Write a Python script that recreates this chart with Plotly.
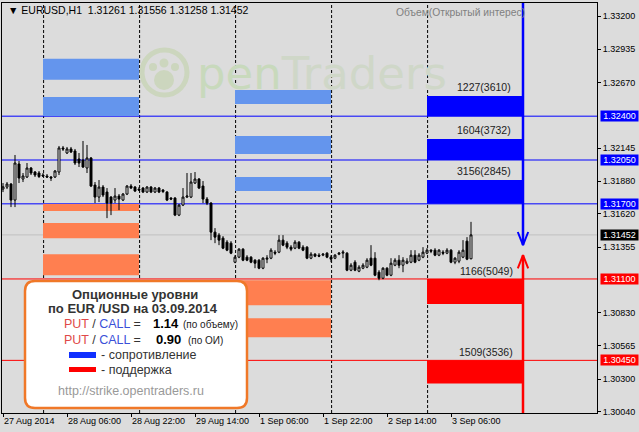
import plotly.graph_objects as go

# ---------------- data (EURUSD H1, 27 Aug 2014 14:00 .. 3 Sep 2014 11:00) ----------------
bar_open = [1.31818, 1.31834, 1.31858, 1.31730, 1.32018, 1.31898, 1.31914, 1.31986, 1.31954, 1.31946,
            1.31930, 1.31922, 1.31914, 1.31914, 1.31954, 1.32146, 1.32106, 1.32138, 1.32122, 1.32058,
            1.32050, 1.31986, 1.32066, 1.31850, 1.31754, 1.31834, 1.31794, 1.31754, 1.31730, 1.31762,
            1.31730, 1.31778, 1.31842, 1.31834, 1.31818, 1.31826, 1.31794, 1.31834, 1.31794, 1.31826,
            1.31810, 1.31794, 1.31746, 1.31746, 1.31610, 1.31690, 1.31754, 1.31754, 1.31866, 1.31898,
            1.31842, 1.31738, 1.31706, 1.31474, 1.31450, 1.31426, 1.31394, 1.31386, 1.31234, 1.31274,
            1.31338, 1.31274, 1.31274, 1.31250, 1.31250, 1.31186, 1.31258, 1.31266, 1.31314, 1.31314,
            1.31410, 1.31386, 1.31354, 1.31346, 1.31394, 1.31354, 1.31354, 1.31266, 1.31298, 1.31290,
            1.31290, 1.31306, 1.31274, 1.31266, 1.31298, 1.31306, 1.31306, 1.31170, 1.31234, 1.31162,
            1.31186, 1.31194, 1.31266, 1.31266, 1.31154, 1.31106, 1.31186, 1.31130, 1.31210, 1.31250,
            1.31210, 1.31226, 1.31234, 1.31290, 1.31250, 1.31274, 1.31306, 1.31330, 1.31330, 1.31290,
            1.31314, 1.31306, 1.31330, 1.31234, 1.31242, 1.31274, 1.31402, 1.31261]
bar_high = [1.31866, 1.31874, 1.31866, 1.32090, 1.32042, 1.31946, 1.32026, 1.31994, 1.31962, 1.31962,
            1.31946, 1.31938, 1.31922, 1.31970, 1.32162, 1.32162, 1.32154, 1.32154, 1.32138, 1.32106,
            1.32202, 1.32170, 1.32074, 1.31874, 1.31890, 1.31850, 1.31826, 1.31762, 1.31826, 1.31778,
            1.31786, 1.31850, 1.31858, 1.31842, 1.31834, 1.31834, 1.31842, 1.31842, 1.31834, 1.31834,
            1.31818, 1.31802, 1.31754, 1.31754, 1.31698, 1.31826, 1.31946, 1.31946, 1.31954, 1.31906,
            1.31882, 1.31754, 1.31714, 1.31506, 1.31466, 1.31442, 1.31410, 1.31402, 1.31290, 1.31346,
            1.31346, 1.31290, 1.31282, 1.31258, 1.31258, 1.31274, 1.31290, 1.31346, 1.31330, 1.31450,
            1.31450, 1.31402, 1.31370, 1.31410, 1.31402, 1.31370, 1.31362, 1.31314, 1.31306, 1.31306,
            1.31306, 1.31314, 1.31290, 1.31298, 1.31314, 1.31330, 1.31314, 1.31226, 1.31250, 1.31210,
            1.31226, 1.31266, 1.31370, 1.31314, 1.31170, 1.31194, 1.31194, 1.31266, 1.31266, 1.31290,
            1.31274, 1.31266, 1.31330, 1.31330, 1.31306, 1.31354, 1.31346, 1.31338, 1.31346, 1.31338,
            1.31330, 1.31346, 1.31338, 1.31274, 1.31330, 1.31410, 1.31434, 1.31556]
bar_low = [1.31794, 1.31818, 1.31674, 1.31674, 1.31866, 1.31874, 1.31906, 1.31930, 1.31914, 1.31906,
           1.31914, 1.31906, 1.31882, 1.31906, 1.31930, 1.32122, 1.32098, 1.32106, 1.32010, 1.31994,
           1.31986, 1.31946, 1.31834, 1.31706, 1.31714, 1.31754, 1.31586, 1.31610, 1.31706, 1.31650,
           1.31722, 1.31770, 1.31818, 1.31794, 1.31802, 1.31786, 1.31786, 1.31786, 1.31786, 1.31786,
           1.31786, 1.31722, 1.31730, 1.31602, 1.31602, 1.31682, 1.31746, 1.31746, 1.31858, 1.31818,
           1.31706, 1.31690, 1.31410, 1.31386, 1.31370, 1.31338, 1.31322, 1.31298, 1.31226, 1.31266,
           1.31242, 1.31242, 1.31226, 1.31186, 1.31178, 1.31178, 1.31226, 1.31258, 1.31290, 1.31306,
           1.31362, 1.31338, 1.31322, 1.31338, 1.31338, 1.31322, 1.31258, 1.31258, 1.31274, 1.31274,
           1.31282, 1.31266, 1.31234, 1.31258, 1.31290, 1.31266, 1.31162, 1.31162, 1.31162, 1.31154,
           1.31178, 1.31186, 1.31202, 1.31122, 1.31090, 1.31098, 1.31122, 1.31122, 1.31202, 1.31186,
           1.31154, 1.31218, 1.31226, 1.31226, 1.31242, 1.31266, 1.31298, 1.31306, 1.31282, 1.31282,
           1.31290, 1.31298, 1.31226, 1.31218, 1.31226, 1.31266, 1.31250, 1.31258]
bar_close = [1.31836, 1.31858, 1.31730, 1.32026, 1.31906, 1.31922, 1.31986, 1.31946, 1.31930, 1.31918,
             1.31922, 1.31914, 1.31906, 1.31962, 1.32146, 1.32138, 1.32138, 1.32114, 1.32026, 1.32026,
             1.31994, 1.32066, 1.31842, 1.31754, 1.31834, 1.31770, 1.31706, 1.31706, 1.31762, 1.31738,
             1.31778, 1.31842, 1.31826, 1.31802, 1.31810, 1.31794, 1.31834, 1.31794, 1.31826, 1.31794,
             1.31798, 1.31730, 1.31738, 1.31610, 1.31690, 1.31754, 1.31762, 1.31874, 1.31898, 1.31826,
             1.31738, 1.31706, 1.31474, 1.31434, 1.31410, 1.31346, 1.31330, 1.31306, 1.31274, 1.31338,
             1.31250, 1.31250, 1.31234, 1.31226, 1.31186, 1.31266, 1.31266, 1.31330, 1.31306, 1.31410,
             1.31370, 1.31354, 1.31338, 1.31394, 1.31346, 1.31330, 1.31266, 1.31298, 1.31282, 1.31282,
             1.31298, 1.31274, 1.31258, 1.31290, 1.31306, 1.31314, 1.31170, 1.31210, 1.31170, 1.31194,
             1.31210, 1.31250, 1.31210, 1.31130, 1.31106, 1.31186, 1.31130, 1.31226, 1.31250, 1.31210,
             1.31250, 1.31242, 1.31290, 1.31234, 1.31290, 1.31314, 1.31330, 1.31322, 1.31290, 1.31330,
             1.31306, 1.31330, 1.31234, 1.31266, 1.31314, 1.31330, 1.31258, 1.31452]

x_tick_bars = [0, 16, 32, 48, 64, 80, 96, 112]
x_tick_labels = ["27 Aug 2014", "28 Aug 06:00", "28 Aug 22:00", "29 Aug 14:00",
                 "1 Sep 06:00", "1 Sep 22:00", "2 Sep 14:00", "3 Sep 06:00"]
day_separator_bars = [10, 34, 58, 82, 106]
y_ticks = [1.33200, 1.32935, 1.32670, 1.32145, 1.31880, 1.31620, 1.31355,
           1.30830, 1.30565, 1.30300, 1.30040]
y_range = [1.300296, 1.333038]
x_range = [-0.25, 148.5]

resistance_levels = [1.32400, 1.32050, 1.31700]
support_levels = [1.31100, 1.30450]
last_price = 1.31452

# option-volume blocks, one column per day: (first bar, last bar)
col_28aug = (10, 34)
col_01sep = (58, 82)
col_03sep = (106, 130)
aug28_call_lo = [1.32690, 1.32402]
aug28_call_hi = [1.32858, 1.32554]
aug28_put_hi = [1.31698, 1.31546, 1.31298]
aug28_put_lo = [1.31642, 1.31426, 1.31130]
sep01_call_lo = [1.32498, 1.32098, 1.31802]
sep01_call_hi = [1.32610, 1.32242, 1.31914]
sep01_put_hi = [1.31090, 1.30786]
sep01_put_lo = [1.30890, 1.30634]
sep03_call_hi = [1.32562, 1.32218, 1.31890]
sep03_put_lo = [1.30900, 1.30266]
sep03_call_labels = ["1227(3610)", "1604(3732)", "3156(2845)"]
sep03_put_labels = ["1166(5049)", "1509(3536)"]

arrow_bar = 130
resist_arrow_tip = 1.31370
support_arrow_tip = 1.31290

pc_ratio_volume = "1.14"
pc_ratio_oi = "0.90"
ohlc_title = ["1.31261", "1.31556", "1.31258", "1.31452"]

# ---------------- layout helpers ----------------
W, H = 639, 432
PL, PR, PT, PB = 2, 597, 3, 413
FONT = "Liberation Sans, Arial, sans-serif"


def px(x):
    return (x - PL) / (PR - PL)


def py(y):
    return (PB - y) / (PB - PT)


fig = go.Figure()

fig.add_trace(go.Candlestick(
    x=list(range(len(bar_open))), open=bar_open, high=bar_high, low=bar_low, close=bar_close,
    increasing=dict(line=dict(color="black", width=1), fillcolor="white"),
    decreasing=dict(line=dict(color="black", width=1), fillcolor="black"),
    whiskerwidth=0, hoverinfo="skip", showlegend=False))

shapes = []


def rect(x0, x1, y0, y1, color):
    shapes.append(dict(type="rect", xref="x", yref="y", x0=x0, x1=x1, y0=y0, y1=y1,
                       fillcolor=color, line=dict(width=0), layer="below"))


CORN, CORAL = "#6495ED", "#FF7F50"
for lo, hi in zip(aug28_call_lo, aug28_call_hi):
    rect(col_28aug[0], col_28aug[1], lo, hi, CORN)
for lo, hi in zip(aug28_put_lo, aug28_put_hi):
    rect(col_28aug[0], col_28aug[1], lo, hi, CORAL)
for lo, hi in zip(sep01_call_lo, sep01_call_hi):
    rect(col_01sep[0], col_01sep[1], lo, hi, CORN)
for lo, hi in zip(sep01_put_lo, sep01_put_hi):
    rect(col_01sep[0], col_01sep[1], lo, hi, CORAL)
for lo, hi in zip(resistance_levels, sep03_call_hi):
    rect(col_03sep[0], col_03sep[1], lo, hi, "#0000FF")
for hi, lo in zip(support_levels, sep03_put_lo):
    rect(col_03sep[0], col_03sep[1], lo, hi, "#FF0000")

for b in day_separator_bars:
    shapes.append(dict(type="line", xref="x", yref="paper", x0=b + 0.15, x1=b + 0.15, y0=0, y1=1,
                       line=dict(color="black", width=1, dash="3px,2px"), layer="below"))

shapes.append(dict(type="line", xref="paper", yref="y", x0=0, x1=1, y0=last_price, y1=last_price,
                   line=dict(color="#C0C0C0", width=1), layer="below"))
for lv in resistance_levels:
    shapes.append(dict(type="line", xref="paper", yref="y", x0=0, x1=1, y0=lv, y1=lv,
                       line=dict(color="#0000FF", width=1), layer="below"))
for lv in support_levels:
    shapes.append(dict(type="line", xref="paper", yref="y", x0=0, x1=1, y0=lv, y1=lv,
                       line=dict(color="#FF0000", width=1), layer="below"))

# watermark logo
WM = "rgb(204,214,190)"
shapes.append(dict(type="circle", xref="paper", yref="paper", x0=px(142), x1=px(187), y0=py(95), y1=py(50),
                   line=dict(color=WM, width=5), fillcolor="rgba(0,0,0,0)", layer="below"))
for cx, cy, r in [(153, 67, 4), (164, 63, 4.5), (175, 67, 4), (164, 80, 10)]:
    shapes.append(dict(type="circle", xref="paper", yref="paper", x0=px(cx - r), x1=px(cx + r),
                       y0=py(cy + r), y1=py(cy - r), line=dict(width=0), fillcolor=WM, layer="below"))

# legend box (rounded)
x0, x1, y0, y1, r = px(25), px(247), py(281), py(408), 10
rx, ry = r / (PR - PL), r / (PB - PT)
path = (f"M {x0+rx},{y0} L {x1-rx},{y0} Q {x1},{y0} {x1},{y0-ry} L {x1},{y1+ry} "
        f"Q {x1},{y1} {x1-rx},{y1} L {x0+rx},{y1} Q {x0},{y1} {x0},{y1+ry} L {x0},{y0-ry} "
        f"Q {x0},{y0} {x0+rx},{y0} Z")
shapes.append(dict(type="path", xref="paper", yref="paper", path=path, fillcolor="white",
                   line=dict(color="#F07828", width=2.5), layer="above"))
shapes.append(dict(type="rect", xref="paper", yref="paper", x0=px(69), x1=px(96), y0=py(358), y1=py(352),
                   fillcolor="#1030FF", line=dict(width=0), layer="above"))
shapes.append(dict(type="rect", xref="paper", yref="paper", x0=px(69), x1=px(96), y0=py(372), y1=py(367),
                   fillcolor="#FF0000", line=dict(width=0), layer="above"))

# arrows
head_dx, head_dy = 1.3, 0.00105
fig.add_trace(go.Scatter(x=[arrow_bar, arrow_bar], y=[y_range[1], resist_arrow_tip], mode="lines",
                         line=dict(color="#0000FF", width=2.5), hoverinfo="skip", showlegend=False))
fig.add_trace(go.Scatter(x=[arrow_bar - head_dx, arrow_bar, arrow_bar + head_dx],
                         y=[resist_arrow_tip + head_dy, resist_arrow_tip, resist_arrow_tip + head_dy],
                         mode="lines", line=dict(color="#0000FF", width=2), hoverinfo="skip", showlegend=False))
fig.add_trace(go.Scatter(x=[arrow_bar, arrow_bar], y=[y_range[0], support_arrow_tip], mode="lines",
                         line=dict(color="#FF0000", width=2.5), hoverinfo="skip", showlegend=False))
fig.add_trace(go.Scatter(x=[arrow_bar - head_dx, arrow_bar, arrow_bar + head_dx],
                         y=[support_arrow_tip - head_dy, support_arrow_tip, support_arrow_tip - head_dy],
                         mode="lines", line=dict(color="#FF0000", width=2), hoverinfo="skip", showlegend=False))

ann = []


def text(x, y, t, size=9, color="black", xanchor="left", yanchor="middle", xref="paper", yref="paper",
         family=FONT, **kw):
    ann.append(dict(x=x, y=y, xref=xref, yref=yref, text=t, showarrow=False, xanchor=xanchor,
                    yanchor=yanchor, font=dict(family=family, size=size, color=color), **kw))


# watermark text
text(px(196), py(73), "<span style='color:rgb(200,217,188)'>pen</span>"
     "<span style='color:rgb(207,215,200)'>Traders</span>", size=45,
     family="DejaVu Sans, Liberation Sans, sans-serif", borderpad=0)

# title & header
text(px(6), py(10), "▼ EURUSD,H1\u00a0\u00a0" + " ".join(ohlc_title), size=10.5)
text(px(460), py(12.5), "Объем(Открытый интерес)", size=10.3, color="#808080", xanchor="center")

# x tick labels
for b, lab in zip(x_tick_bars, x_tick_labels):
    text(b, 0, lab, size=9, xref="x", yanchor="top", yshift=-1, xshift=-1)

# highlighted price labels
for lv in resistance_levels:
    text(1, lv, f"{lv:.5f}", size=9, color="white", xref="paper", yref="y", xshift=3,
         bgcolor="#0000FF", width=37, borderpad=0)
for lv in support_levels:
    text(1, lv, f"{lv:.5f}", size=9, color="white", xref="paper", yref="y", xshift=3,
         bgcolor="#FF0000", width=37, borderpad=0)
text(1, last_price, f"{last_price:.5f}", size=9, color="white", xref="paper", yref="y", xshift=3,
     bgcolor="#000000", width=37, borderpad=0)

# volume labels
for lab, hi in zip(sep03_call_labels, sep03_call_hi):
    text(127.6, hi, lab, size=10.5, color="#222222", xref="x", yref="y", xanchor="right",
         yanchor="bottom", yshift=1)
for lab, hi in zip(sep03_put_labels, support_levels):
    text(127.9, hi, lab, size=10.5, color="#222222", xref="x", yref="y", xanchor="right",
         yanchor="bottom", yshift=0)

# legend box text
DK = "#333333"
text(px(135), py(294), "<b>Опционные уровни</b>", size=13, color=DK, xanchor="center")
text(px(132.5), py(308), "<b>по EUR /USD на 03.09.2014</b>", size=13, color=DK, xanchor="center")
pc = ("<span style='color:#E04848'>PUT</span> / "
      "<span style='color:#3A50D8'>CALL</span> =")
text(px(62), py(323.5), pc, size=12.5, color=DK)
text(px(151), py(323.5), f"<b>{pc_ratio_volume}</b>", size=13, color="black")
text(px(181), py(324.5), "(по объему)", size=10, color="#222222")
text(px(62), py(339.5), pc, size=12.5, color=DK)
text(px(154), py(339.5), f"<b>{pc_ratio_oi}</b>", size=13, color="black")
text(px(186), py(340.5), "(по ОИ)", size=10, color="#222222")
text(px(99), py(355), "- сопротивление", size=12.5, color=DK)
text(px(99), py(369.5), "- поддержка", size=12.5, color=DK)
text(px(131), py(391), "http://strike.opentraders.ru", size=12.5, color="#999999", xanchor="center")

BG = "#DCDCDC"
fig.update_layout(
    width=W, height=H, margin=dict(l=PL, r=W - PR, t=PT, b=H - PB, autoexpand=False),
    paper_bgcolor=BG, plot_bgcolor=BG, showlegend=False,
    shapes=shapes, annotations=ann,
    xaxis=dict(range=x_range, tickvals=x_tick_bars, ticktext=[""] * len(x_tick_bars),
               ticks="outside", ticklen=3, tickcolor="black", showgrid=False, zeroline=False,
               showline=True, linecolor="black", linewidth=1, mirror=True,
               rangeslider=dict(visible=False), fixedrange=True),
    yaxis=dict(range=y_range, side="right", tickvals=y_ticks, ticktext=[f"{v:.5f}" for v in y_ticks],
               ticks="outside", ticklen=3, tickcolor="black", showgrid=False, zeroline=False,
               showline=True, linecolor="black", linewidth=1, mirror=True,
               tickfont=dict(family=FONT, size=9, color="black"), fixedrange=True),
)

fig.write_html("out.html", config={"displayModeBar": False},
               post_script="document.body.style.margin='0';document.body.style.padding='0';"
                           "document.body.style.overflow='hidden';"
                           "document.body.style.background='#DCDCDC';")
